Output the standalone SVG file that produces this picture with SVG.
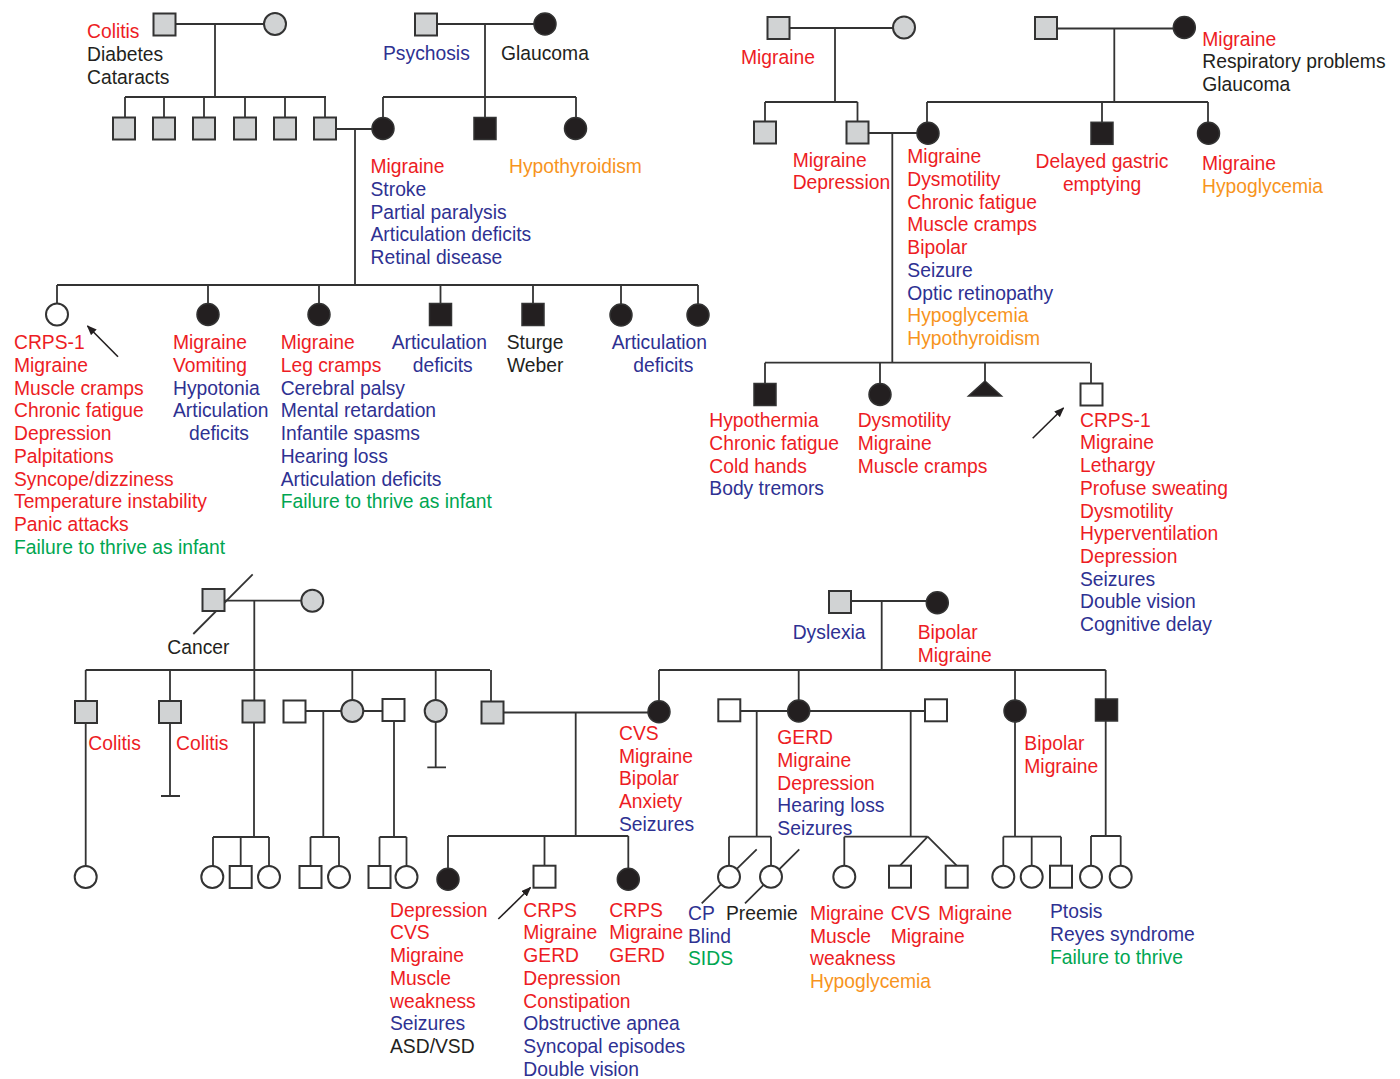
<svg xmlns="http://www.w3.org/2000/svg" width="1400" height="1079" viewBox="0 0 1400 1079">
<style>
text{font-family:"Liberation Sans",Arial,sans-serif;font-size:19.3px}
.r{fill:#ed1c24}.b{fill:#2e3192}.o{fill:#f7941d}.g{fill:#00a651}.k{fill:#231f20}
.ln{stroke:#333;stroke-width:1.8;fill:none}
.gy{fill:#d1d3d4;stroke:#333;stroke-width:2}
.bk{fill:#231f20;stroke:#333;stroke-width:1.5}
.op{fill:#fff;stroke:#333;stroke-width:2}
.ar{stroke:#231f20;stroke-width:1.6;fill:none}
</style>
<defs>
<marker id="ah" viewBox="0 0 10 8" refX="9" refY="4" markerWidth="10" markerHeight="8" markerUnits="userSpaceOnUse" orient="auto"><path d="M0,0L10,4L0,8z" fill="#231f20"/></marker>
</defs>
<rect width="1400" height="1079" fill="#fff"/>
<g id="connectors" class="ln">
<path d="M175.5,24H264M215,24V97M125,97H326M125,97V118M164,97V118M204,97V118M245,97V118M285,97V118M325,97V118"/>
<path d="M437,24H534M485,24V97M383,97H576M383,97V118M485,97V118M576,97V118"/>
<path d="M335.5,129H372M355,129V285"/>
<path d="M57,285H698M57,285V303.5M208,285V303.5M319,285V303.5M440.5,285V303.5M533,285V303.5M621,285V304M698,285V304"/>
<path d="M789.5,28H893M835,28V102M765,102H857.5M765,102V121.5M857.5,102V121.5"/>
<path d="M868.5,133H917M892.3,133V362.7"/>
<path d="M1057,28.5H1173M1114.3,28.5V102M927,102H1208M927,102V122M1102,102V122.3M1208,102V122.3"/>
<path d="M765,362.7H1090M765,362.7V383.5M880,362.7V383.5M985,362.7V381M1091,362.7V383.5"/>
<path d="M193.3,634L252.7,574.3"/>
<path d="M224.5,600.7H301.3M254.3,600.7V670M85.7,670H490M85.7,670V701M170,670V701M254.3,670V700.5M352.3,670V700M435.7,670V700M491,670V701.5"/>
<path d="M85.7,723V866M170,723V796M161,796H180M435.7,722V767.3M427.3,767.3H446"/>
<path d="M305.5,711H341.3M363.3,711H382.5M503.5,712.5H648"/>
<path d="M254,722V837M213,837H269M213,837V866M240.7,837V866M269,837V866"/>
<path d="M323.3,711V837M310.5,837H339M310.5,837V866M339,837V866"/>
<path d="M394,721V837M379.5,837H406.5M379.5,837V866M406.5,837V866"/>
<path d="M575.7,712.5V836M448,836H628.3M448,836V868M544.5,836V865.7M628.3,836V868"/>
<path d="M851,601H926M881.7,601V670M659,670H1105.7M659,670V700.5M798.7,670V700M1015,670V700M1105.7,670V699"/>
<path d="M739.3,711H787.7M809.7,711H925M756.7,711V836.7M729,836.7H771M729,836.7V866M771,836.7V866"/>
<path d="M701.7,903.3L756.7,849.3M745,903.3L799.3,849.3"/>
<path d="M910.7,711V836.7M844.3,836.7H927.7M844.3,836.7V866M927.7,836.7L900,865.7M927.7,836.7L956.7,865.7"/>
<path d="M1015,722V836.7M1003.3,836.7H1061M1003.3,836.7V866M1031.7,836.7V866M1061,836.7V866"/>
<path d="M1105.7,721V836M1091,836H1120.7M1091,836V866M1120.7,836V866"/>
</g>
<g id="arrows" class="ar">
<line x1="118" y1="356.7" x2="87.5" y2="326" marker-end="url(#ah)"/>
<line x1="1032.7" y1="438.3" x2="1063.5" y2="408" marker-end="url(#ah)"/>
<line x1="498.3" y1="919" x2="530.5" y2="887.5" marker-end="url(#ah)"/>
</g>
<g id="tl-gf"><rect class="gy" x="153.5" y="13.5" width="22" height="22"/>
<text x="87" y="38.3"><tspan class="r">Colitis</tspan><tspan class="k" x="87" y="61">Diabetes</tspan><tspan class="k" x="87" y="83.6">Cataracts</tspan></text></g>
<g id="tl-gm"><circle class="gy" cx="275" cy="24" r="11"/></g>
<g id="tl-c1"><rect class="gy" x="113" y="117.5" width="22" height="22"/></g>
<g id="tl-c2"><rect class="gy" x="153" y="117.5" width="22" height="22"/></g>
<g id="tl-c3"><rect class="gy" x="193" y="117.5" width="22" height="22"/></g>
<g id="tl-c4"><rect class="gy" x="234" y="117.5" width="22" height="22"/></g>
<g id="tl-c5"><rect class="gy" x="274" y="117.5" width="22" height="22"/></g>
<g id="tl-c6"><rect class="gy" x="314" y="117.5" width="22" height="22"/></g>
<g id="tm-gf"><rect class="gy" x="415" y="13.5" width="22" height="22"/><text class="b" x="383" y="60">Psychosis</text></g>
<g id="tm-gm"><circle class="bk" cx="545" cy="24" r="11"/><text class="k" x="501" y="60">Glaucoma</text></g>
<g id="tm-c1"><circle class="bk" cx="383" cy="128.5" r="11"/>
<text x="370.5" y="173.3"><tspan class="r">Migraine</tspan><tspan class="b" x="370.5" y="196">Stroke</tspan><tspan class="b" x="370.5" y="218.7">Partial paralysis</tspan><tspan class="b" x="370.5" y="241.4">Articulation deficits</tspan><tspan class="b" x="370.5" y="264.1">Retinal disease</tspan></text></g>
<g id="tm-c2"><rect class="bk" x="474" y="117.5" width="22" height="22"/></g>
<g id="tm-c3"><circle class="bk" cx="575.5" cy="128.5" r="11"/><text class="o" x="509" y="173.3">Hypothyroidism</text></g>
<g id="g3-1"><circle class="op" cx="57" cy="314.5" r="11"/>
<text x="14" y="349.3"><tspan class="r">CRPS-1</tspan><tspan class="r" x="14" y="372">Migraine</tspan><tspan class="r" x="14" y="394.7">Muscle cramps</tspan><tspan class="r" x="14" y="417.4">Chronic fatigue</tspan><tspan class="r" x="14" y="440.1">Depression</tspan><tspan class="r" x="14" y="462.8">Palpitations</tspan><tspan class="r" x="14" y="485.5">Syncope/dizziness</tspan><tspan class="r" x="14" y="508.2">Temperature instability</tspan><tspan class="r" x="14" y="530.9">Panic attacks</tspan><tspan class="g" x="14" y="553.6">Failure to thrive as infant</tspan></text></g>
<g id="g3-2"><circle class="bk" cx="208" cy="314.5" r="11"/>
<text x="173" y="349.3"><tspan class="r">Migraine</tspan><tspan class="r" x="173" y="372">Vomiting</tspan><tspan class="b" x="173" y="394.7">Hypotonia</tspan><tspan class="b" x="173" y="417.4">Articulation</tspan><tspan class="b" x="189" y="440.1">deficits</tspan></text></g>
<g id="g3-3"><circle class="bk" cx="319" cy="314.5" r="11"/>
<text x="280.7" y="349.3"><tspan class="r">Migraine</tspan><tspan class="r" x="280.7" y="372">Leg cramps</tspan><tspan class="b" x="280.7" y="394.7">Cerebral palsy</tspan><tspan class="b" x="280.7" y="417.4">Mental retardation</tspan><tspan class="b" x="280.7" y="440.1">Infantile spasms</tspan><tspan class="b" x="280.7" y="462.8">Hearing loss</tspan><tspan class="b" x="280.7" y="485.5">Articulation deficits</tspan><tspan class="g" x="280.7" y="508.2">Failure to thrive as infant</tspan></text></g>
<g id="g3-4"><rect class="bk" x="429.5" y="303.5" width="22" height="22"/>
<text class="b" x="391.7" y="349.3">Articulation<tspan x="412.7" y="372">deficits</tspan></text></g>
<g id="g3-5"><rect class="bk" x="522" y="303.5" width="22" height="22"/>
<text class="k" x="506.7" y="349.3">Sturge<tspan x="507" y="372">Weber</tspan></text></g>
<g id="g3-6"><circle class="bk" cx="621" cy="315" r="11"/>
<text class="b" x="611.7" y="349.3">Articulation<tspan x="633.3" y="372">deficits</tspan></text></g>
<g id="g3-7"><circle class="bk" cx="698" cy="315" r="11"/></g>
<g id="tr-gf"><rect class="gy" x="767.5" y="17" width="22" height="22"/><text class="r" x="741" y="64">Migraine</text></g>
<g id="tr-gm"><circle class="gy" cx="904" cy="27.5" r="11"/></g>
<g id="tr-c1"><rect class="gy" x="754" y="121.5" width="22" height="22"/></g>
<g id="tr-c2"><rect class="gy" x="846.5" y="121.5" width="22" height="22"/>
<text class="r" x="792.7" y="166.7">Migraine<tspan x="792.7" y="189.4">Depression</tspan></text></g>
<g id="rr-gf"><rect class="gy" x="1035" y="17" width="22" height="22"/></g>
<g id="rr-gm"><circle class="bk" cx="1184.3" cy="27.5" r="11"/>
<text x="1202.3" y="45.7"><tspan class="r">Migraine</tspan><tspan class="k" x="1202.3" y="68.4">Respiratory problems</tspan><tspan class="k" x="1202.3" y="91.1">Glaucoma</tspan></text></g>
<g id="rr-c1"><circle class="bk" cx="928" cy="133.3" r="11"/>
<text x="907.3" y="163.3"><tspan class="r">Migraine</tspan><tspan class="r" x="907.3" y="186">Dysmotility</tspan><tspan class="r" x="907.3" y="208.7">Chronic fatigue</tspan><tspan class="r" x="907.3" y="231.4">Muscle cramps</tspan><tspan class="r" x="907.3" y="254.1">Bipolar</tspan><tspan class="b" x="907.3" y="276.8">Seizure</tspan><tspan class="b" x="907.3" y="299.5">Optic retinopathy</tspan><tspan class="o" x="907.3" y="322.2">Hypoglycemia</tspan><tspan class="o" x="907.3" y="344.9">Hypothyroidism</tspan></text></g>
<g id="rr-c2"><rect class="bk" x="1091" y="122.3" width="22" height="22"/>
<text class="r" x="1102" y="168.3" text-anchor="middle">Delayed gastric<tspan x="1102" y="191">emptying</tspan></text></g>
<g id="rr-c3"><circle class="bk" cx="1208.5" cy="133.3" r="11"/>
<text x="1202" y="170"><tspan class="r">Migraine</tspan><tspan class="o" x="1202" y="192.7">Hypoglycemia</tspan></text></g>
<g id="tr-g3-1"><rect class="bk" x="754" y="383.5" width="22" height="22"/>
<text x="709.3" y="427.3"><tspan class="r">Hypothermia</tspan><tspan class="r" x="709.3" y="450">Chronic fatigue</tspan><tspan class="r" x="709.3" y="472.7">Cold hands</tspan><tspan class="b" x="709.3" y="495.4">Body tremors</tspan></text></g>
<g id="tr-g3-2"><circle class="bk" cx="880" cy="394.5" r="11"/>
<text class="r" x="857.7" y="427.3">Dysmotility<tspan x="857.7" y="450">Migraine</tspan><tspan x="857.7" y="472.7">Muscle cramps</tspan></text></g>
<g id="tr-g3-3"><polygon class="bk" points="985,381 1001.5,396 968.5,396"/></g>
<g id="tr-g3-4"><rect class="op" x="1080.5" y="383.5" width="22" height="22"/>
<text x="1080" y="426.7"><tspan class="r">CRPS-1</tspan><tspan class="r" x="1080" y="449.4">Migraine</tspan><tspan class="r" x="1080" y="472.1">Lethargy</tspan><tspan class="r" x="1080" y="494.8">Profuse sweating</tspan><tspan class="r" x="1080" y="517.5">Dysmotility</tspan><tspan class="r" x="1080" y="540.2">Hyperventilation</tspan><tspan class="r" x="1080" y="562.9">Depression</tspan><tspan class="b" x="1080" y="585.6">Seizures</tspan><tspan class="b" x="1080" y="608.3">Double vision</tspan><tspan class="b" x="1080" y="631">Cognitive delay</tspan></text></g>
<g id="bl-gf"><rect class="gy" x="202.5" y="589" width="22" height="22"/><text class="k" x="167.3" y="654.3">Cancer</text></g>
<g id="bl-gm"><circle class="gy" cx="312.3" cy="600.7" r="11"/></g>
<g id="bl-c1"><rect class="gy" x="75" y="701" width="22" height="22"/><text class="r" x="88.3" y="750">Colitis</text></g>
<g id="bl-c2"><rect class="gy" x="159" y="701" width="22" height="22"/><text class="r" x="176" y="750">Colitis</text></g>
<g id="bl-c3"><rect class="gy" x="242.5" y="700.5" width="22" height="22"/></g>
<g id="bl-s1"><rect class="op" x="283.5" y="700.5" width="22" height="22"/></g>
<g id="bl-c4"><circle class="gy" cx="352.3" cy="711" r="11"/></g>
<g id="bl-s2"><rect class="op" x="382.5" y="699" width="22" height="22"/></g>
<g id="bl-c5"><circle class="gy" cx="435.7" cy="711" r="11"/></g>
<g id="bl-c6"><rect class="gy" x="481.5" y="701.5" width="22" height="22"/></g>
<g id="bl-gc1"><circle class="op" cx="85.7" cy="877" r="11"/></g>
<g id="bl-gc2"><circle class="op" cx="212.3" cy="877" r="11"/></g>
<g id="bl-gc3"><rect class="op" x="229.7" y="866" width="22" height="22"/></g>
<g id="bl-gc4"><circle class="op" cx="269" cy="877" r="11"/></g>
<g id="bl-gc5"><rect class="op" x="299.5" y="866" width="22" height="22"/></g>
<g id="bl-gc6"><circle class="op" cx="339" cy="877" r="11"/></g>
<g id="bl-gc7"><rect class="op" x="368.5" y="866" width="22" height="22"/></g>
<g id="bl-gc8"><circle class="op" cx="406.5" cy="877" r="11"/></g>
<g id="bm-m"><circle class="bk" cx="659" cy="711.7" r="11"/>
<text x="619" y="740"><tspan class="r">CVS</tspan><tspan class="r" x="619" y="762.7">Migraine</tspan><tspan class="r" x="619" y="785.4">Bipolar</tspan><tspan class="r" x="619" y="808.1">Anxiety</tspan><tspan class="b" x="619" y="830.8">Seizures</tspan></text></g>
<g id="bm-c1"><circle class="bk" cx="448" cy="879.3" r="11"/>
<text x="390" y="916.7"><tspan class="r">Depression</tspan><tspan class="r" x="390" y="939.4">CVS</tspan><tspan class="r" x="390" y="962.1">Migraine</tspan><tspan class="r" x="390" y="984.8">Muscle</tspan><tspan class="r" x="390" y="1007.5">weakness</tspan><tspan class="b" x="390" y="1030.2">Seizures</tspan><tspan class="k" x="390" y="1052.9">ASD/VSD</tspan></text></g>
<g id="bm-c2"><rect class="op" x="533.5" y="865.7" width="22" height="22"/>
<text x="523.3" y="916.7"><tspan class="r">CRPS</tspan><tspan class="r" x="523.3" y="939.4">Migraine</tspan><tspan class="r" x="523.3" y="962.1">GERD</tspan><tspan class="r" x="523.3" y="984.8">Depression</tspan><tspan class="r" x="523.3" y="1007.5">Constipation</tspan><tspan class="b" x="523.3" y="1030.2">Obstructive apnea</tspan><tspan class="b" x="523.3" y="1052.9">Syncopal episodes</tspan><tspan class="b" x="523.3" y="1075.6">Double vision</tspan></text></g>
<g id="bm-c3"><circle class="bk" cx="628.3" cy="879.3" r="11"/>
<text class="r" x="609.3" y="916.7">CRPS<tspan x="609.3" y="939.4">Migraine</tspan><tspan x="609.3" y="962.1">GERD</tspan></text></g>
<g id="br-gf"><rect class="gy" x="829" y="591" width="22" height="22"/><text class="b" x="792.7" y="639">Dyslexia</text></g>
<g id="br-gm"><circle class="bk" cx="937.3" cy="602.7" r="11"/>
<text class="r" x="917.7" y="639">Bipolar<tspan x="917.7" y="661.7">Migraine</tspan></text></g>
<g id="br-s1"><rect class="op" x="718.3" y="699.3" width="22" height="22"/></g>
<g id="br-c1"><circle class="bk" cx="798.7" cy="711" r="11"/>
<text x="777.3" y="744.3"><tspan class="r">GERD</tspan><tspan class="r" x="777.3" y="767">Migraine</tspan><tspan class="r" x="777.3" y="789.7">Depression</tspan><tspan class="b" x="777.3" y="812.4">Hearing loss</tspan><tspan class="b" x="777.3" y="835.1">Seizures</tspan></text></g>
<g id="br-s2"><rect class="op" x="925" y="699.3" width="22" height="22"/></g>
<g id="br-gc1"><circle class="op" cx="729" cy="876.7" r="11"/>
<text x="688" y="920"><tspan class="b">CP</tspan><tspan class="b" x="688" y="942.7">Blind</tspan><tspan class="g" x="688" y="965.4">SIDS</tspan></text></g>
<g id="br-gc2"><circle class="op" cx="771" cy="876.7" r="11"/><text class="k" x="726" y="920">Preemie</text></g>
<g id="br-gc3"><circle class="op" cx="844.3" cy="876.7" r="11"/>
<text x="810" y="920"><tspan class="r">Migraine</tspan><tspan class="r" x="810" y="942.7">Muscle</tspan><tspan class="r" x="810" y="965.4">weakness</tspan><tspan class="o" x="810" y="988.1">Hypoglycemia</tspan></text></g>
<g id="br-gc4"><rect class="op" x="889" y="865.7" width="22" height="22"/>
<text class="r" x="890.7" y="920">CVS<tspan x="890.7" y="942.7">Migraine</tspan></text></g>
<g id="br-gc5"><rect class="op" x="945.7" y="865.7" width="22" height="22"/><text class="r" x="938.3" y="920">Migraine</text></g>
<g id="br-c2"><circle class="bk" cx="1015" cy="711" r="11"/>
<text class="r" x="1024.3" y="750">Bipolar<tspan x="1024.3" y="772.7">Migraine</tspan></text></g>
<g id="br-gc6"><circle class="op" cx="1003.3" cy="876.7" r="11"/></g>
<g id="br-gc7"><circle class="op" cx="1031.7" cy="876.7" r="11"/></g>
<g id="br-gc8"><rect class="op" x="1050" y="865.7" width="22" height="22"/></g>
<g id="br-c3"><rect class="bk" x="1095.5" y="699" width="22" height="22"/></g>
<g id="br-gc9"><circle class="op" cx="1091" cy="876.7" r="11"/>
<text x="1050" y="918.3"><tspan class="b">Ptosis</tspan><tspan class="b" x="1050" y="941">Reyes syndrome</tspan><tspan class="g" x="1050" y="963.7">Failure to thrive</tspan></text></g>
<g id="br-gc10"><circle class="op" cx="1120.7" cy="876.7" r="11"/></g>
</svg>
